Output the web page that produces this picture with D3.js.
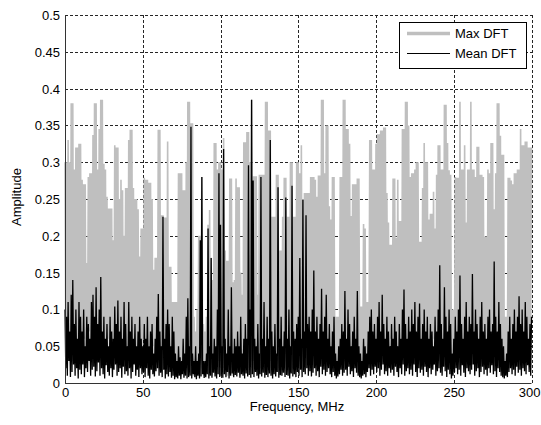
<!DOCTYPE html>
<html>
<head>
<meta charset="utf-8">
<script src="https://cdn.jsdelivr.net/npm/d3@7"></script>
<style>
  html, body { margin: 0; padding: 0; background: #fff; }
  svg { display: block; }
  text { font-family: "Liberation Sans", Arial, sans-serif; fill: #000; }
</style>
</head>
<body>
<svg id="chart" width="541" height="425"></svg>
<script>
// ---- data (1 MHz bins, peak at f and trough at f+0.5) ----
const xTicks = [0, 50, 100, 150, 200, 250, 300];
const yTicks = [0, 0.05, 0.1, 0.15, 0.2, 0.25, 0.3, 0.35, 0.4, 0.45, 0.5];
const yTickLabels = ["0", "0.05", "0.1", "0.15", "0.2", "0.25", "0.3", "0.35", "0.4", "0.45", "0.5"];
const seriesNames = ["Max DFT", "Mean DFT"];

const maxPeak = [
  0.30,0.30,0.33,0.30,0.38,0.38,0.29,0.32,0.32,0.325,
  0.325,0.276,0.27,0.27,0.163,0.28,0.285,0.285,0.337,0.38,
  0.38,0.29,0.345,0.385,0.385,0.298,0.29,0.253,0.237,0.237,
  0.237,0.194,0.323,0.32,0.32,0.25,0.276,0.262,0.20,0.265,
  0.265,0.33,0.344,0.344,0.265,0.25,0.25,0.236,0.172,0.21,
  0.21,0.279,0.276,0.276,0.272,0.272,0.25,0.154,0.17,0.17,
  0.344,0.344,0.228,0.228,0.225,0.225,0.328,0.158,0.158,0.11,
  0.11,0.11,0.11,0.285,0.285,0.285,0.262,0.262,0.30,0.382,
  0.382,0.353,0.353,0.09,0.07,0.10,0.20,0.20,0.28,0.08,
  0.07,0.09,0.215,0.235,0.17,0.14,0.326,0.326,0.29,0.30,
  0.30,0.29,0.333,0.18,0.166,0.166,0.278,0.278,0.137,0.14,
  0.278,0.266,0.266,0.15,0.12,0.327,0.327,0.341,0.341,0.30,
  0.385,0.281,0.281,0.281,0.12,0.283,0.283,0.283,0.283,0.382,
  0.382,0.343,0.343,0.226,0.226,0.226,0.283,0.283,0.18,0.18,
  0.226,0.279,0.279,0.226,0.226,0.30,0.30,0.226,0.226,0.30,
  0.30,0.285,0.323,0.25,0.258,0.258,0.258,0.258,0.28,0.28,
  0.28,0.276,0.253,0.282,0.282,0.385,0.385,0.285,0.35,0.35,
  0.24,0.222,0.28,0.28,0.09,0.09,0.09,0.28,0.28,0.385,
  0.385,0.345,0.345,0.325,0.227,0.27,0.27,0.27,0.278,0.278,
  0.104,0.104,0.216,0.21,0.11,0.11,0.33,0.33,0.29,0.29,
  0.325,0.338,0.338,0.343,0.343,0.347,0.347,0.258,0.218,0.188,
  0.188,0.278,0.278,0.197,0.276,0.22,0.22,0.345,0.345,0.382,
  0.382,0.35,0.28,0.285,0.285,0.29,0.30,0.30,0.192,0.192,
  0.265,0.326,0.30,0.30,0.222,0.23,0.23,0.26,0.21,0.283,
  0.323,0.323,0.29,0.29,0.378,0.378,0.326,0.289,0.283,0.10,
  0.10,0.28,0.279,0.279,0.382,0.29,0.29,0.323,0.218,0.29,
  0.29,0.382,0.29,0.29,0.28,0.321,0.321,0.283,0.283,0.28,
  0.199,0.199,0.29,0.285,0.326,0.326,0.236,0.285,0.38,0.38,
  0.336,0.31,0.31,0.09,0.09,0.279,0.279,0.275,0.27,0.285,
  0.285,0.29,0.29,0.345,0.323,0.323,0.328,0.328,0.32,0.32,
  0.32
];
const maxDip = [
  0.06,0.04,0.07,0.05,0.03,0.06,0.08,0.04,0.05,0.07,
  0.05,0.03,0.06,0.04,0.05,0.07,0.04,0.06,0.03,0.05,
  0.07,0.04,0.05,0.06,0.03,0.05,0.04,0.06,0.05,0.03,
  0.04,0.06,0.05,0.03,0.07,0.04,0.05,0.03,0.06,0.04,
  0.05,0.03,0.04,0.06,0.05,0.03,0.04,0.05,0.03,0.04,
  0.06,0.04,0.03,0.05,0.04,0.03,0.05,0.04,0.03,0.05,
  0.04,0.03,0.05,0.04,0.03,0.02,0.04,0.02,0.01,0.02,
  0.01,0.02,0.01,0.02,0.01,0.02,0.03,0.02,0.03,0.02,
  0.03,0.02,0.01,0.02,0.01,0.02,0.01,0.03,0.02,0.01,
  0.01,0.02,0.03,0.02,0.01,0.03,0.02,0.04,0.03,0.02,
  0.03,0.02,0.04,0.02,0.01,0.03,0.02,0.01,0.02,0.03,
  0.02,0.03,0.01,0.02,0.03,0.04,0.03,0.02,0.04,0.03,
  0.02,0.03,0.02,0.01,0.03,0.02,0.04,0.03,0.02,0.03,
  0.04,0.02,0.03,0.02,0.03,0.02,0.03,0.02,0.01,0.03,
  0.02,0.04,0.03,0.02,0.03,0.04,0.02,0.03,0.04,0.03,
  0.04,0.03,0.05,0.03,0.04,0.06,0.04,0.05,0.03,0.04,
  0.05,0.04,0.06,0.03,0.05,0.04,0.06,0.03,0.05,0.04,
  0.03,0.04,0.02,0.03,0.01,0.02,0.03,0.04,0.05,0.03,
  0.05,0.04,0.06,0.03,0.05,0.04,0.03,0.05,0.04,0.02,
  0.02,0.03,0.04,0.02,0.03,0.05,0.04,0.06,0.03,0.05,
  0.04,0.06,0.05,0.03,0.06,0.04,0.05,0.03,0.04,0.06,
  0.05,0.04,0.03,0.05,0.04,0.06,0.03,0.05,0.04,0.06,
  0.04,0.05,0.03,0.06,0.04,0.05,0.07,0.04,0.05,0.03,
  0.06,0.04,0.05,0.03,0.06,0.04,0.05,0.06,0.04,0.05,
  0.05,0.07,0.04,0.05,0.06,0.04,0.05,0.03,0.04,0.03,
  0.04,0.05,0.06,0.04,0.05,0.03,0.06,0.04,0.05,0.06,
  0.04,0.05,0.07,0.04,0.06,0.05,0.03,0.05,0.04,0.06,
  0.05,0.04,0.06,0.03,0.05,0.04,0.06,0.05,0.04,0.05,
  0.04,0.03,0.02,0.03,0.02,0.04,0.05,0.03,0.06,0.04,
  0.05,0.06,0.04,0.05,0.07,0.04,0.06,0.05,0.04,0.06
];
const meanPeak = [
  0.10,0.09,0.11,0.07,0.12,0.14,0.08,0.10,0.06,0.11,
  0.09,0.07,0.10,0.05,0.09,0.08,0.06,0.11,0.12,0.09,
  0.13,0.08,0.10,0.144,0.07,0.09,0.06,0.08,0.05,0.09,
  0.07,0.06,0.104,0.08,0.112,0.07,0.09,0.06,0.11,0.08,
  0.05,0.11,0.07,0.09,0.06,0.08,0.05,0.07,0.09,0.06,
  0.05,0.08,0.06,0.09,0.05,0.07,0.08,0.04,0.06,0.09,
  0.121,0.07,0.05,0.226,0.06,0.08,0.10,0.08,0.05,0.09,
  0.07,0.04,0.03,0.05,0.035,0.03,0.06,0.04,0.09,0.115,
  0.05,0.348,0.04,0.03,0.05,0.03,0.04,0.194,0.28,0.03,
  0.03,0.04,0.21,0.05,0.17,0.04,0.06,0.05,0.10,0.285,
  0.215,0.05,0.318,0.06,0.04,0.10,0.05,0.13,0.04,0.06,
  0.05,0.07,0.05,0.09,0.04,0.06,0.08,0.06,0.296,0.10,
  0.385,0.275,0.06,0.05,0.08,0.04,0.28,0.06,0.11,0.05,
  0.09,0.06,0.33,0.07,0.05,0.08,0.04,0.266,0.06,0.09,
  0.05,0.07,0.252,0.06,0.10,0.05,0.268,0.07,0.06,0.08,
  0.09,0.17,0.06,0.249,0.07,0.228,0.08,0.09,0.07,0.10,
  0.153,0.07,0.09,0.06,0.08,0.128,0.07,0.09,0.12,0.06,
  0.08,0.05,0.07,0.09,0.04,0.03,0.05,0.06,0.08,0.07,
  0.125,0.06,0.10,0.08,0.05,0.07,0.09,0.06,0.125,0.05,
  0.04,0.03,0.06,0.05,0.04,0.07,0.09,0.10,0.07,0.08,
  0.06,0.09,0.11,0.07,0.12,0.08,0.06,0.09,0.07,0.05,
  0.08,0.06,0.09,0.07,0.05,0.08,0.06,0.10,0.127,0.08,
  0.06,0.09,0.07,0.10,0.08,0.11,0.07,0.09,0.108,0.06,
  0.08,0.10,0.07,0.09,0.06,0.08,0.07,0.05,0.09,0.07,
  0.10,0.16,0.08,0.06,0.13,0.09,0.07,0.10,0.08,0.04,
  0.06,0.09,0.07,0.10,0.146,0.08,0.06,0.09,0.11,0.07,
  0.09,0.08,0.148,0.07,0.10,0.08,0.06,0.09,0.11,0.07,
  0.08,0.06,0.09,0.10,0.07,0.08,0.165,0.09,0.07,0.11,
  0.08,0.06,0.05,0.03,0.04,0.07,0.09,0.06,0.08,0.10,
  0.07,0.09,0.118,0.08,0.10,0.07,0.11,0.09,0.06,0.08,
  0.09
];
const meanDip = [
  0.02,0.01,0.03,0.008,0.015,0.025,0.01,0.02,0.006,0.018,
  0.012,0.025,0.008,0.02,0.015,0.03,0.01,0.018,0.022,0.009,
  0.016,0.028,0.01,0.02,0.012,0.006,0.024,0.015,0.01,0.02,
  0.008,0.018,0.025,0.01,0.015,0.02,0.007,0.022,0.012,0.016,
  0.01,0.02,0.006,0.015,0.025,0.01,0.018,0.008,0.02,0.012,
  0.015,0.008,0.02,0.01,0.006,0.018,0.012,0.009,0.016,0.02,
  0.01,0.014,0.008,0.018,0.006,0.012,0.009,0.015,0.007,0.01,
  0.005,0.008,0.006,0.01,0.005,0.012,0.007,0.01,0.006,0.008,
  0.01,0.006,0.012,0.008,0.005,0.01,0.006,0.009,0.012,0.007,
  0.008,0.012,0.006,0.01,0.007,0.014,0.009,0.006,0.012,0.008,
  0.01,0.007,0.012,0.008,0.015,0.006,0.01,0.013,0.008,0.011,
  0.009,0.014,0.007,0.012,0.01,0.006,0.013,0.009,0.011,0.007,
  0.012,0.008,0.015,0.01,0.006,0.012,0.009,0.014,0.007,0.011,
  0.008,0.013,0.01,0.006,0.012,0.009,0.015,0.007,0.011,0.01,
  0.014,0.008,0.011,0.01,0.006,0.013,0.009,0.012,0.008,0.015,
  0.01,0.018,0.008,0.015,0.012,0.02,0.01,0.016,0.009,0.014,
  0.02,0.01,0.016,0.008,0.022,0.012,0.018,0.01,0.015,0.02,
  0.012,0.008,0.015,0.01,0.006,0.009,0.012,0.018,0.01,0.014,
  0.018,0.01,0.022,0.012,0.016,0.008,0.02,0.014,0.01,0.008,
  0.006,0.01,0.012,0.008,0.015,0.02,0.01,0.018,0.012,0.022,
  0.015,0.02,0.01,0.018,0.025,0.012,0.016,0.01,0.02,0.014,
  0.018,0.01,0.022,0.015,0.008,0.02,0.012,0.025,0.01,0.016,
  0.02,0.012,0.018,0.01,0.025,0.015,0.008,0.02,0.014,0.018,
  0.01,0.022,0.015,0.008,0.02,0.012,0.018,0.025,0.01,0.016,
  0.02,0.014,0.01,0.022,0.016,0.008,0.018,0.012,0.006,0.01,
  0.015,0.02,0.012,0.018,0.01,0.024,0.014,0.008,0.02,0.016,
  0.012,0.018,0.025,0.01,0.016,0.02,0.008,0.015,0.022,0.012,
  0.018,0.01,0.02,0.014,0.024,0.012,0.016,0.008,0.02,0.015,
  0.01,0.008,0.006,0.01,0.008,0.015,0.02,0.012,0.018,0.01,
  0.022,0.014,0.018,0.01,0.02,0.016,0.012,0.024,0.015,0.01
];

// ---- build point lists (peak at integer MHz, trough between) ----
function buildSeries(peaks, dips) {
  const pts = [];
  peaks.forEach((v, i) => {
    pts.push([i, v]);
    if (i < dips.length) pts.push([i + 0.5, dips[i]]);
  });
  return pts;
}
const maxSeries = buildSeries(maxPeak, maxDip);
const meanSeries = buildSeries(meanPeak, meanDip);

// ---- layout ----
const svg = d3.select("#chart");
const pL = 65, pR = 531.5, pT = 15, pB = 383;
const x = d3.scaleLinear().domain([0, 300]).range([pL, pR]);
const y = d3.scaleLinear().domain([0, 0.5]).range([pB, pT]);

// grid (dashed)
const grid = svg.append("g").attr("stroke", "#262626").attr("stroke-width", 1)
  .attr("stroke-dasharray", "3,2").attr("shape-rendering", "crispEdges");
xTicks.filter(t => t > 0).forEach(t => {
  grid.append("line").attr("x1", Math.round(x(t)) + 0.5).attr("x2", Math.round(x(t)) + 0.5)
    .attr("y1", pT).attr("y2", pB);
});
yTicks.filter(t => t > 0).forEach(t => {
  grid.append("line").attr("y1", Math.round(y(t)) + 0.5).attr("y2", Math.round(y(t)) + 0.5)
    .attr("x1", pL).attr("x2", pR);
});

// series
const line = d3.line().x(d => x(d[0])).y(d => y(d[1]));
svg.append("path").datum(maxSeries).attr("d", line)
  .attr("fill", "none").attr("stroke", "#bfbfbf").attr("stroke-width", 1.6)
  .attr("stroke-linejoin", "miter");
svg.append("path").datum(meanSeries).attr("d", line)
  .attr("fill", "none").attr("stroke", "#000").attr("stroke-width", 1.3);

// axes lines
svg.append("line").attr("x1", pL + 0.5).attr("x2", pL + 0.5).attr("y1", pT).attr("y2", pB + 0.5)
  .attr("stroke", "#333").attr("stroke-width", 1);
svg.append("line").attr("x1", pL).attr("x2", pR).attr("y1", pB + 0.5).attr("y2", pB + 0.5)
  .attr("stroke", "#333").attr("stroke-width", 1);

// tick labels
const xAxis = d3.axisBottom(x).tickValues(xTicks).tickSize(0).tickPadding(0).tickFormat(d3.format("d"));
const gx = svg.append("g").attr("transform", `translate(0,${pB})`).call(xAxis);
gx.select(".domain").remove();
gx.selectAll("text").attr("font-size", 13).attr("dy", null).attr("y", 14)
  .attr("font-family", "'Liberation Sans', Arial, sans-serif").attr("fill", "#000");
// keep the last label inside the window (the reference shows it hugging the right edge)
gx.selectAll(".tick").filter(d => d === 300).select("text")
  .attr("text-anchor", "end").attr("x", 540 - x(300));

const yAxis = d3.axisLeft(y).tickValues(yTicks).tickSize(0).tickPadding(5)
  .tickFormat((d, i) => yTickLabels[i]);
const gy = svg.append("g").attr("transform", `translate(${pL},0)`).call(yAxis);
gy.select(".domain").remove();
gy.selectAll("text").attr("font-size", 13).attr("dy", "0.35em")
  .attr("font-family", "'Liberation Sans', Arial, sans-serif").attr("fill", "#000");

// axis titles
svg.append("text").attr("x", 297).attr("y", 411).attr("text-anchor", "middle")
  .attr("font-size", 13).text("Frequency, MHz");
svg.append("text").attr("transform", "translate(21,197) rotate(-90)")
  .attr("text-anchor", "middle").attr("font-size", 13).text("Amplitude");

// legend
const lg = svg.append("g");
lg.append("rect").attr("x", 399.5).attr("y", 22.5).attr("width", 127).attr("height", 46)
  .attr("fill", "#fff").attr("stroke", "#000").attr("stroke-width", 1);
lg.append("line").attr("x1", 407).attr("x2", 450).attr("y1", 33.5).attr("y2", 33.5)
  .attr("stroke", "#bfbfbf").attr("stroke-width", 3.5);
lg.append("text").attr("x", 455).attr("y", 38).attr("font-size", 13).text(seriesNames[0]);
lg.append("line").attr("x1", 407).attr("x2", 450).attr("y1", 53.5).attr("y2", 53.5)
  .attr("stroke", "#000").attr("stroke-width", 1);
lg.append("text").attr("x", 455).attr("y", 58).attr("font-size", 13).text(seriesNames[1]);
</script>
</body>
</html>
